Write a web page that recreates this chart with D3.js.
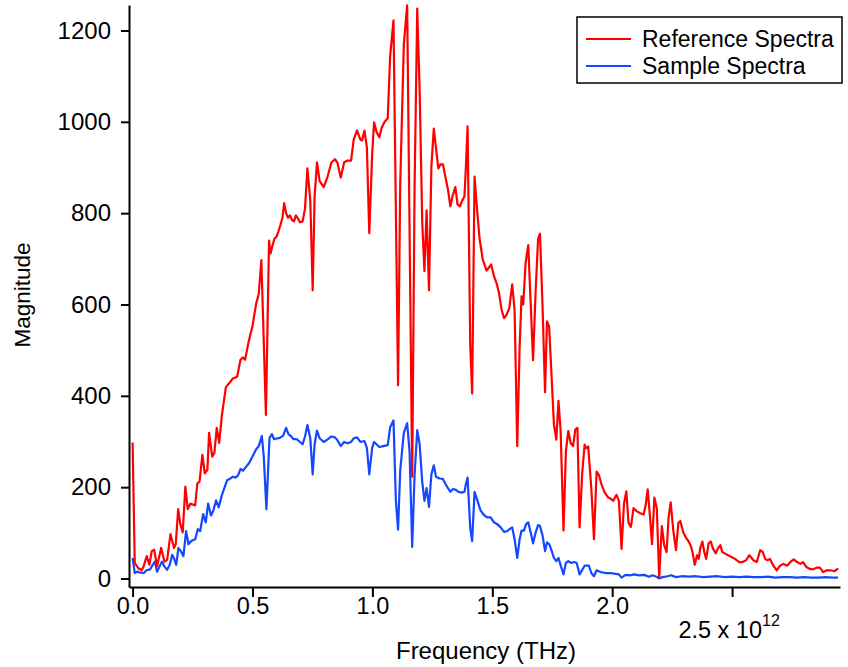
<!DOCTYPE html>
<html>
<head>
<meta charset="utf-8">
<script src="https://cdn.jsdelivr.net/npm/d3@7"></script>
<style>
  html, body { margin: 0; padding: 0; background: #fff; }
  svg { display: block; font-family: "Liberation Sans", Arial, sans-serif; }
</style>
</head>
<body>
<svg id="chart" width="848" height="667"></svg>
<script>
// ---------------- DATA ----------------
const refFreq = [0.000,0.009,0.023,0.038,0.045,0.059,0.070,0.080,0.090,0.102,0.119,0.133,0.144,0.158,0.173,0.180,0.190,0.199,0.209,0.220,0.230,0.241,0.261,0.270,0.279,0.291,0.301,0.312,0.319,0.332,0.341,0.351,0.361,0.372,0.389,0.408,0.418,0.436,0.450,0.460,0.469,0.483,0.500,0.515,0.526,0.537,0.556,0.569,0.575,0.583,0.592,0.600,0.608,0.617,0.625,0.632,0.640,0.648,0.656,0.665,0.673,0.681,0.690,0.698,0.709,0.719,0.729,0.741,0.751,0.759,0.769,0.780,0.797,0.812,0.829,0.844,0.854,0.868,0.882,0.894,0.911,0.922,0.936,0.950,0.957,0.967,0.977,0.987,0.999,1.007,1.017,1.029,1.038,1.050,1.064,1.074,1.088,1.107,1.116,1.131,1.145,1.166,1.176,1.187,1.197,1.208,1.217,1.226,1.236,1.246,1.256,1.265,1.275,1.284,1.294,1.305,1.315,1.325,1.334,1.346,1.355,1.365,1.375,1.384,1.390,1.397,1.408,1.416,1.426,1.437,1.447,1.460,1.476,1.486,1.495,1.507,1.517,1.528,1.539,1.549,1.560,1.571,1.583,1.593,1.604,1.614,1.622,1.629,1.639,1.650,1.660,1.670,1.681,1.691,1.699,1.710,1.720,1.728,1.737,1.746,1.757,1.767,1.776,1.785,1.797,1.807,1.817,1.827,1.837,1.846,1.855,1.864,1.875,1.885,1.891,1.900,1.913,1.924,1.935,1.945,1.956,1.968,1.982,1.993,2.005,2.012,2.018,2.028,2.039,2.049,2.059,2.068,2.078,2.089,2.103,2.117,2.131,2.140,2.148,2.157,2.166,2.176,2.186,2.196,2.207,2.217,2.227,2.235,2.244,2.255,2.266,2.276,2.284,2.297,2.308,2.319,2.329,2.336,2.344,2.354,2.361,2.367,2.376,2.384,2.392,2.402,2.411,2.420,2.432,2.441,2.451,2.459,2.469,2.483,2.498,2.512,2.530,2.544,2.558,2.572,2.589,2.603,2.617,2.628,2.638,2.647,2.658,2.672,2.686,2.700,2.714,2.731,2.742,2.757,2.771,2.785,2.796,2.810,2.824,2.838,2.854,2.866,2.880,2.894,2.911,2.928,2.942];
const refMag = [298,34,23,18,25,49,30,60,63,27,67,37,41,97,67,75,152,119,101,201,152,164,160,208,212,271,230,238,319,267,275,330,297,356,419,431,438,442,479,484,479,516,553,601,623,697,358,740,712,728,745,748,760,775,790,822,800,790,795,785,782,795,788,780,782,810,898,828,631,836,911,870,857,878,911,918,911,878,911,915,915,961,981,961,959,981,944,756,928,999,978,966,986,999,1008,1144,1222,423,861,1169,1255,223,861,1248,1069,778,673,806,631,902,985,944,898,907,907,878,852,815,837,857,819,815,828,837,902,990,511,405,880,805,744,699,674,681,688,662,648,625,588,570,578,592,644,588,290,507,618,600,692,730,603,478,633,744,755,588,408,563,552,456,338,304,389,323,105,279,323,296,290,326,330,112,231,293,285,289,197,86,234,226,205,189,178,175,170,178,183,170,65,163,191,122,113,154,147,143,140,162,195,140,75,177,154,3,115,73,58,133,167,104,62,122,126,100,89,81,70,55,30,51,43,66,81,58,43,77,81,66,55,66,73,58,55,51,47,43,36,36,40,51,40,36,62,58,43,40,43,28,18,28,32,28,36,42,36,32,36,25,21,20,24,24,14,18,18,16,22];

const sampleFreq = [0.000,0.009,0.019,0.030,0.047,0.058,0.073,0.084,0.093,0.102,0.112,0.122,0.133,0.144,0.155,0.165,0.172,0.182,0.191,0.201,0.212,0.223,0.233,0.244,0.261,0.272,0.282,0.294,0.305,0.315,0.327,0.337,0.348,0.359,0.372,0.384,0.394,0.408,0.418,0.429,0.440,0.450,0.460,0.472,0.486,0.500,0.514,0.526,0.539,0.547,0.558,0.571,0.581,0.590,0.603,0.614,0.628,0.640,0.650,0.660,0.671,0.685,0.698,0.709,0.719,0.729,0.741,0.751,0.759,0.769,0.780,0.797,0.812,0.829,0.844,0.854,0.868,0.882,0.897,0.911,0.922,0.936,0.950,0.967,0.977,0.987,0.999,1.007,1.017,1.029,1.045,1.064,1.074,1.088,1.098,1.107,1.116,1.131,1.145,1.155,1.166,1.176,1.187,1.197,1.208,1.217,1.226,1.236,1.246,1.256,1.265,1.280,1.294,1.305,1.315,1.325,1.336,1.348,1.358,1.372,1.384,1.390,1.397,1.408,1.416,1.426,1.437,1.451,1.465,1.479,1.493,1.507,1.521,1.535,1.549,1.563,1.572,1.583,1.593,1.604,1.614,1.622,1.632,1.641,1.650,1.660,1.670,1.681,1.691,1.699,1.710,1.720,1.728,1.738,1.748,1.757,1.767,1.776,1.786,1.797,1.807,1.817,1.829,1.841,1.852,1.864,1.875,1.885,1.903,1.913,1.924,1.935,1.952,1.972,1.993,2.014,2.028,2.039,2.056,2.077,2.091,2.112,2.133,2.154,2.168,2.185,2.196,2.210,2.231,2.245,2.266,2.290,2.320,2.350,2.380,2.410,2.440,2.470,2.500,2.530,2.560,2.590,2.620,2.650,2.680,2.710,2.740,2.770,2.800,2.830,2.860,2.890,2.920,2.942];
const sampleMag = [45,12,15,13,12,18,20,30,37,15,26,37,26,19,30,52,45,30,67,60,49,104,75,82,86,108,104,141,123,164,138,149,171,156,182,200,215,219,223,221,226,240,236,244,253,267,282,290,312,267,152,308,316,305,307,308,313,330,316,312,305,305,299,294,311,336,307,228,294,324,307,299,304,311,309,303,290,299,296,299,307,309,299,301,286,228,286,299,294,288,290,292,331,346,170,107,236,319,340,278,69,228,325,294,211,170,198,157,228,248,223,219,218,207,198,190,196,194,190,188,190,207,221,111,82,190,172,149,139,134,134,123,119,112,102,104,108,112,86,45,86,105,105,119,123,101,77,101,117,115,93,60,79,75,60,45,38,45,27,9,34,38,34,36,34,9,19,28,28,12,5,18,14,12,12,10,9,2,8,7,9,7,8,4,7,4,0,3,5,7,3,5,4,5,3,4,5,3,4,3,4,3,3,4,2,3,3,2,3,2,2,3,2,2];

const xTicks = [0, 0.5, 1.0, 1.5, 2.0, 2.5];
const xTickLabels = ["0.0", "0.5", "1.0", "1.5", "2.0", "2.5"];
const xExponent = "12";
const yTicks = [0, 200, 400, 600, 800, 1000, 1200];
const seriesNames = ["Reference Spectra", "Sample Spectra"];
const seriesColors = ["#ff0000", "#1447ff"];
const xTitle = "Frequency (THz)";
const yTitle = "Magnitude";

// ---------------- CHART ----------------
const svg = d3.select("#chart");
const FF = "'Liberation Sans', Arial, sans-serif";

const x = d3.scaleLinear().domain([-0.015, 2.950]).range([129, 840]);
const y = d3.scaleLinear().domain([-18.6, 1255.8]).range([587, 5]);

const refData = refFreq.map((f, i) => [f, refMag[i]]);
const sampleData = sampleFreq.map((f, i) => [f, sampleMag[i]]);

const line = d3.line().x(d => x(d[0])).y(d => y(d[1]));

svg.append("path").datum(sampleData)
  .attr("d", line).attr("fill", "none")
  .attr("stroke", seriesColors[1]).attr("stroke-width", 2.2).attr("stroke-linejoin", "round");
svg.append("path").datum(refData)
  .attr("d", line).attr("fill", "none")
  .attr("stroke", seriesColors[0]).attr("stroke-width", 2.2).attr("stroke-linejoin", "round");

// Y axis
const yAxis = svg.append("g").attr("transform", "translate(129,0)")
  .call(d3.axisLeft(y).tickValues(yTicks).tickSize(8).tickSizeOuter(0).tickPadding(10).tickFormat(d3.format("d")));
yAxis.selectAll("path, line").attr("stroke", "#000").attr("stroke-width", 2);
yAxis.selectAll("text").attr("font-size", 24).attr("fill", "#000").attr("font-family", FF);

// X axis
const xAxis = svg.append("g").attr("transform", "translate(0,587)")
  .call(d3.axisBottom(x).tickValues(xTicks).tickSize(10).tickSizeOuter(0).tickPadding(0)
    .tickFormat((d, i) => i === xTicks.length - 1 ? "" : xTickLabels[i]));
xAxis.selectAll("path, line").attr("stroke", "#000").attr("stroke-width", 2);
xAxis.selectAll("text").attr("font-size", 23.5).attr("fill", "#000").attr("font-family", FF);

// last tick label with exponent
const lastT = xTicks[xTicks.length - 1];
const expLabel = svg.append("text")
  .attr("x", x(lastT) - 3).attr("y", 638)
  .attr("text-anchor", "middle").attr("font-size", 23.5).attr("fill", "#000");
expLabel.append("tspan").text(xTickLabels[xTickLabels.length - 1] + " x 10");
expLabel.append("tspan").attr("dy", -12).attr("font-size", 16).text(xExponent);

// Axis titles
svg.append("text").attr("x", 486).attr("y", 659)
  .attr("text-anchor", "middle").attr("font-size", 24).attr("fill", "#000").text(xTitle);
svg.append("text").attr("transform", "translate(30,295) rotate(-90)")
  .attr("text-anchor", "middle").attr("font-size", 22.5).attr("fill", "#000").text(yTitle);

// Legend
const lg = svg.append("g");
lg.append("rect").attr("x", 577).attr("y", 17).attr("width", 265).attr("height", 66)
  .attr("fill", "#fff").attr("stroke", "#000").attr("stroke-width", 1.5);
seriesNames.forEach((name, i) => {
  const cy = 39 + i * 27;
  lg.append("line").attr("x1", 586).attr("x2", 631).attr("y1", cy).attr("y2", cy)
    .attr("stroke", seriesColors[i]).attr("stroke-width", 2);
  lg.append("text").attr("x", 642).attr("y", cy + 8).attr("font-size", 23)
    .attr("fill", "#000").text(name);
});
</script>
</body>
</html>
